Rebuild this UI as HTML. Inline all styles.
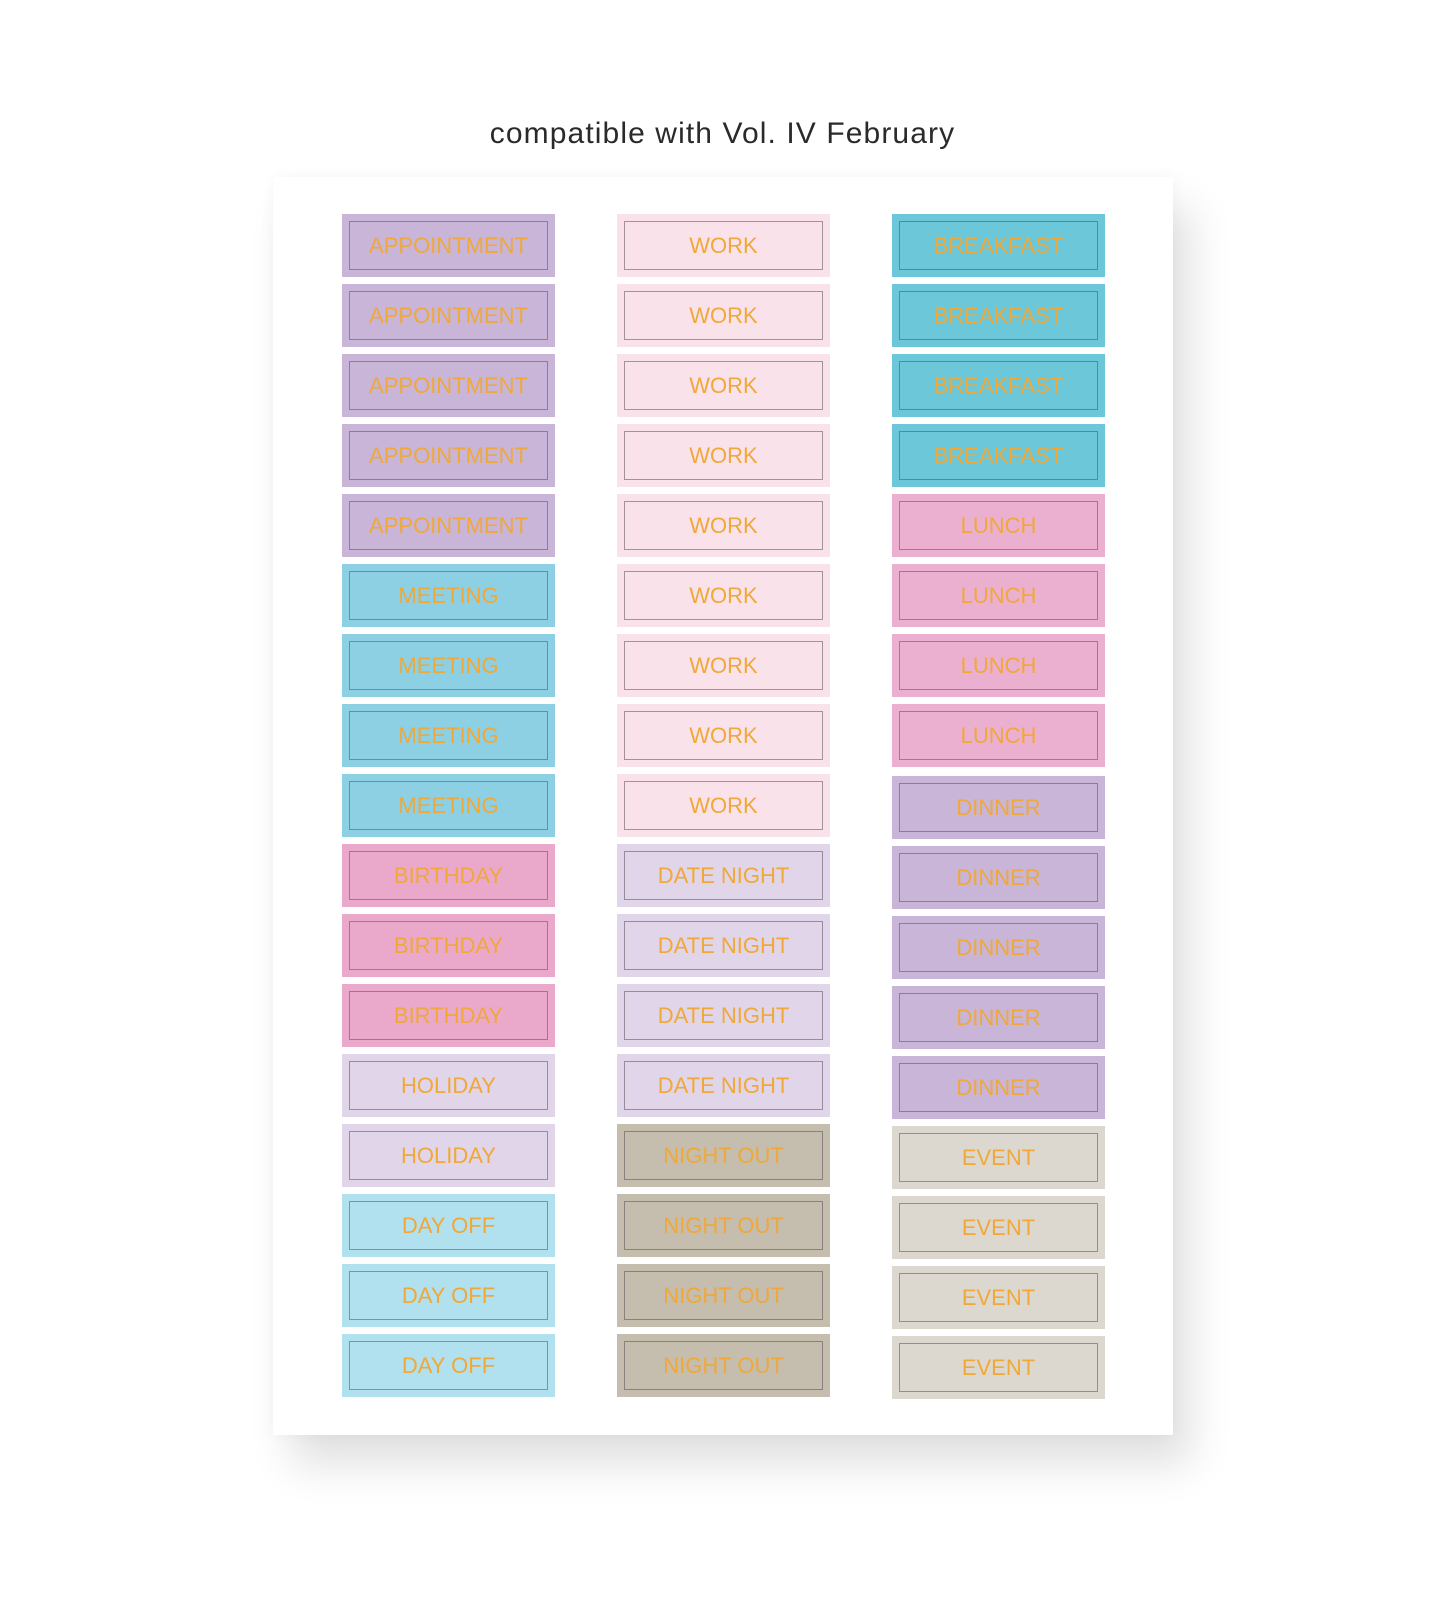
<!DOCTYPE html>
<html><head><style>
body{margin:0;width:1445px;height:1612px;background:#fff;position:relative;overflow:hidden;font-family:"Liberation Sans",sans-serif}
.title{position:absolute;top:118px;left:0;width:1445px;text-align:center;font-size:30px;line-height:31px;color:#2a2a2a;font-weight:300;letter-spacing:1.1px}
.sheet{position:absolute;left:273px;top:177px;width:900px;height:1258px;background:#fff;box-shadow:18px 30px 40px rgba(0,0,0,0.12),0 0 14px rgba(0,0,0,0.04)}
.s{position:absolute;width:213px;height:63px}
.s div{position:absolute;left:7px;top:7px;right:7px;bottom:7px;border:1px solid rgba(90,80,90,0.55);display:flex;align-items:center;justify-content:center;color:#f0a838;font-size:22px;box-sizing:border-box}
</style></head><body>
<div class="title">compatible with Vol. IV February</div>
<div class="sheet"></div>
<div id="c"></div>
<script>
const cols=[
[["APPOINTMENT","#c9b5d8",5],["MEETING","#8dd0e4",4],["BIRTHDAY","#eaa9cb",3],["HOLIDAY","#e1d5e9",2],["DAY OFF","#b1e0ee",3]],
[["WORK","#f9e2ea",9],["DATE NIGHT","#e1d5e9",4],["NIGHT OUT","#c5bdae",4]],
[["BREAKFAST","#6cc7d9",4],["LUNCH","#ebb0d0",4],["DINNER","#c9b5d8",5],["EVENT","#ddd8cf",4]]];
const xs=[342,617,892];let h="";
cols.forEach((col,ci)=>{let r=0;col.forEach(([t,c,n])=>{for(let i=0;i<n;i++){let y=214+r*70;if(ci==2&&r>=8)y+=2;h+=`<div class="s" style="left:${xs[ci]}px;top:${y}px;background:${c}"><div>${t}</div></div>`;r++;}})});
document.getElementById("c").innerHTML=h;
</script>
</body></html>
